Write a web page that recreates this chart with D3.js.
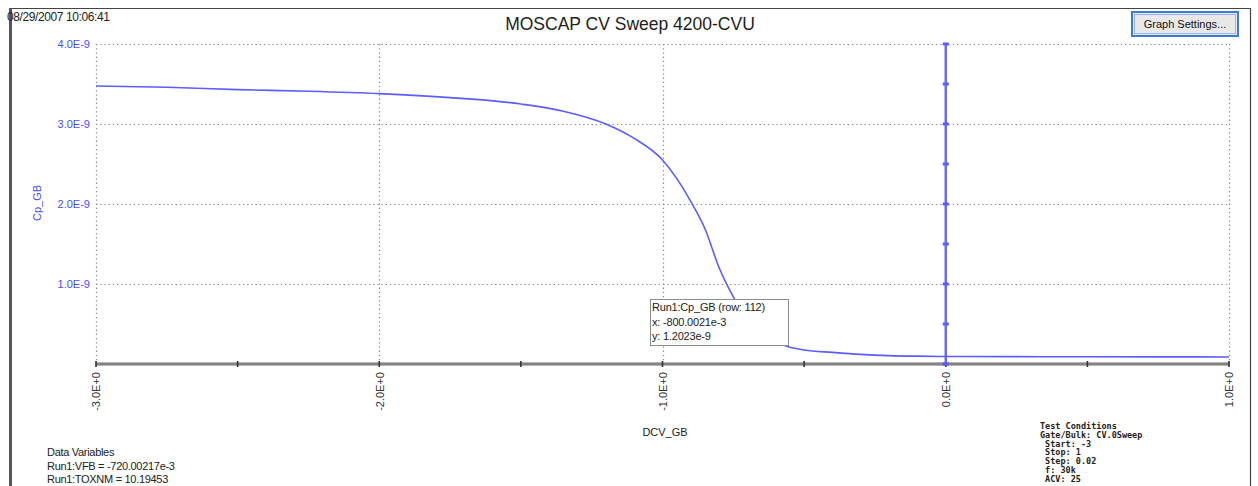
<!DOCTYPE html>
<html>
<head>
<meta charset="utf-8">
<script src="https://cdn.jsdelivr.net/npm/d3@7"></script>
<style>
  body { margin: 0; background: #fff; }
  svg { display: block; font-family: "Liberation Sans", Arial, sans-serif; }
</style>
</head>
<body>
<svg width="1258" height="486"></svg>
<script>
const dcvGB = [-3, -2.75, -2.5, -2.25, -2, -1.75, -1.5, -1.35, -1.2, -1.1, -1.0, -0.95, -0.9, -0.85,
  -0.8, -0.75, -0.7, -0.65, -0.6, -0.55, -0.5, -0.4, -0.3, -0.2, -0.1, 0, 0.25, 0.5, 0.75, 1.0];
const cpGB = [3.475e-9, 3.46e-9, 3.43e-9, 3.41e-9, 3.38e-9, 3.33e-9, 3.25e-9, 3.16e-9, 3.0e-9, 2.82e-9,
  2.55e-9, 2.32e-9, 2.03e-9, 1.69e-9, 1.2023e-9, 0.84e-9, 0.56e-9, 0.38e-9, 0.27e-9, 0.21e-9,
  0.175e-9, 0.145e-9, 0.12e-9, 0.105e-9, 0.098e-9, 0.094e-9, 0.092e-9, 0.09e-9, 0.089e-9, 0.088e-9];

const xTicks = [-3, -2, -1, 0, 1];
const xMinorTicks = [-2.5, -1.5, -0.5, 0.5];
const yTicks = [1e-9, 2e-9, 3e-9, 4e-9];
// marker line drawn at 0 V with points every 0.5e-9
const markerX = 0;
const markerY = [0, 0.5e-9, 1e-9, 1.5e-9, 2e-9, 2.5e-9, 3e-9, 3.5e-9, 4e-9];

const dataVariables = ["Data Variables", "Run1:VFB = -720.00217e-3", "Run1:TOXNM = 10.19453"];
const testConditions = ["Test Conditions", "Gate/Bulk: CV.0Sweep", " Start: -3", " Stop: 1",
  " Step: 0.02", " f: 30k", " ACV: 25"];
const tooltipLines = ["Run1:Cp_GB (row: 112)", "x: -800.0021e-3", "y: 1.2023e-9"];

const svg = d3.select("svg");

const x = d3.scaleLinear().domain([-3, 1]).range([96, 1229]);
const y = d3.scaleLinear().domain([0, 4e-9]).range([364, 44]);

// window frame
svg.append("line").attr("x1", 10).attr("x2", 1251).attr("y1", 8.5).attr("y2", 8.5)
  .attr("stroke", "#444").attr("stroke-width", 1);
svg.append("line").attr("x1", 10.5).attr("x2", 10.5).attr("y1", 8).attr("y2", 486)
  .attr("stroke", "#555").attr("stroke-width", 3);
svg.append("line").attr("x1", 1250.5).attr("x2", 1250.5).attr("y1", 8).attr("y2", 486)
  .attr("stroke", "#444").attr("stroke-width", 1.2);

svg.append("text").attr("x", 7).attr("y", 21).attr("font-size", 12)
  .attr("letter-spacing", -0.4).attr("fill", "#222").text("08/29/2007 10:06:41");

svg.append("text").attr("x", 630).attr("y", 30).attr("text-anchor", "middle")
  .attr("font-size", 17.5).attr("fill", "#222").text("MOSCAP CV Sweep 4200-CVU");

// Graph Settings button
const btn = svg.append("g");
btn.append("rect").attr("x", 1132).attr("y", 12).attr("width", 106).attr("height", 24)
  .attr("fill", "#e8e8e8").attr("stroke", "#3a7ad8").attr("stroke-width", 2);
btn.append("rect").attr("x", 1134.5).attr("y", 14.5).attr("width", 101).attr("height", 19)
  .attr("fill", "none").attr("stroke", "#9ab9e6").attr("stroke-width", 1);
btn.append("text").attr("x", 1185).attr("y", 28).attr("text-anchor", "middle")
  .attr("font-size", 11).attr("fill", "#111").text("Graph Settings...");

// dotted grid
const grid = svg.append("g").attr("stroke", "#8a8a8a").attr("stroke-width", 1.2)
  .attr("stroke-dasharray", "1.3,2.9").attr("fill", "none");
grid.selectAll("line.h").data(yTicks).join("line")
  .attr("x1", x(-3)).attr("x2", x(1)).attr("y1", d => Math.round(y(d)) + 0.5).attr("y2", d => Math.round(y(d)) + 0.5);
grid.selectAll("line.v").data(xTicks).join("line")
  .attr("x1", d => Math.round(x(d)) + 0.5).attr("x2", d => Math.round(x(d)) + 0.5)
  .attr("y1", y(4e-9)).attr("y2", y(0));

// y axis labels
const yAxis = d3.axisLeft(y).tickValues(yTicks).tickSize(0).tickPadding(6)
  .tickFormat(d => (d / 1e-9).toFixed(1) + "E-9");
const gy = svg.append("g").attr("transform", "translate(" + x(-3) + ",0)").call(yAxis);
gy.select(".domain").remove();
gy.selectAll("text").attr("fill", "#4b4bff").attr("font-size", 11)
  .attr("font-family", "Liberation Sans, Arial, sans-serif");

svg.append("text").attr("transform", "translate(41,203) rotate(-90)").attr("text-anchor", "middle")
  .attr("font-size", 11).attr("fill", "#4b4bff").text("Cp_GB");

// x axis
svg.append("line").attr("x1", x(-3)).attr("x2", x(1)).attr("y1", y(0)).attr("y2", y(0))
  .attr("stroke", "#9a9a9a").attr("stroke-width", 3.5);
svg.append("line").attr("x1", x(-3)).attr("x2", x(1)).attr("y1", y(0)).attr("y2", y(0))
  .attr("stroke", "#6e6e6e").attr("stroke-width", 1);
svg.append("g").selectAll("line").data(xTicks.concat(xMinorTicks)).join("line")
  .attr("x1", d => x(d)).attr("x2", d => x(d)).attr("y1", y(0) - 3).attr("y2", y(0) + 3)
  .attr("stroke", "#333").attr("stroke-width", 1.6);

const xAxis = d3.axisBottom(x).tickValues(xTicks).tickSize(0).tickPadding(0)
  .tickFormat(d => (d === 0 ? "0.0" : d.toFixed(1)) + "E+0");
const gx = svg.append("g").attr("transform", "translate(0," + y(0) + ")").call(xAxis);
gx.select(".domain").remove();
gx.selectAll("text").attr("transform", "rotate(-90)").attr("text-anchor", "end")
  .attr("x", -8).attr("y", 0).attr("dy", "0.35em").attr("font-size", 11)
  .attr("fill", "#333").attr("font-family", "Liberation Sans, Arial, sans-serif");

svg.append("text").attr("x", 665).attr("y", 436).attr("text-anchor", "middle")
  .attr("font-size", 11).attr("fill", "#222").text("DCV_GB");

// marker line at 0 V
svg.append("line").attr("x1", x(markerX)).attr("x2", x(markerX))
  .attr("y1", y(d3.max(markerY))).attr("y2", y(0))
  .attr("stroke", "#6a6aff").attr("stroke-width", 2.5);
svg.append("g").selectAll("rect").data(markerY).join("rect")
  .attr("x", x(markerX) - 3).attr("y", d => y(d) - 1.5).attr("width", 6).attr("height", 3)
  .attr("fill", "#5a5aff");

// CV curve
const pts = dcvGB.map((v, i) => [v, cpGB[i]]);
svg.append("path").datum(pts)
  .attr("d", d3.line().x(d => x(d[0])).y(d => y(d[1])).curve(d3.curveMonotoneX))
  .attr("fill", "none").attr("stroke", "#5c5cff").attr("stroke-width", 1.6);

// hover tooltip
const tip = svg.append("g").attr("transform", "translate(650,299)");
tip.append("rect").attr("x", 0.5).attr("y", 0.5).attr("width", 138).attr("height", 46)
  .attr("fill", "#fff").attr("stroke", "#8c8c8c");
tip.selectAll("text").data(tooltipLines).join("text")
  .attr("x", 2).attr("y", (d, i) => 12 + i * 14.5).attr("font-size", 11)
  .attr("letter-spacing", -0.2).attr("fill", "#222").text(d => d);

// data variables block
svg.append("g").selectAll("text").data(dataVariables).join("text")
  .attr("x", 47).attr("y", (d, i) => 456 + i * 13.5).attr("font-size", 11)
  .attr("letter-spacing", -0.3).attr("fill", "#222").text(d => d);

// test conditions block
svg.append("g").selectAll("text").data(testConditions).join("text")
  .attr("x", 1040).attr("y", (d, i) => 429 + i * 8.8).attr("font-size", 8.5)
  .attr("font-family", "DejaVu Sans Mono, monospace").attr("font-weight", "bold")
  .attr("xml:space", "preserve").style("white-space", "pre")
  .attr("fill", "#222").text(d => d);
</script>
</body>
</html>
